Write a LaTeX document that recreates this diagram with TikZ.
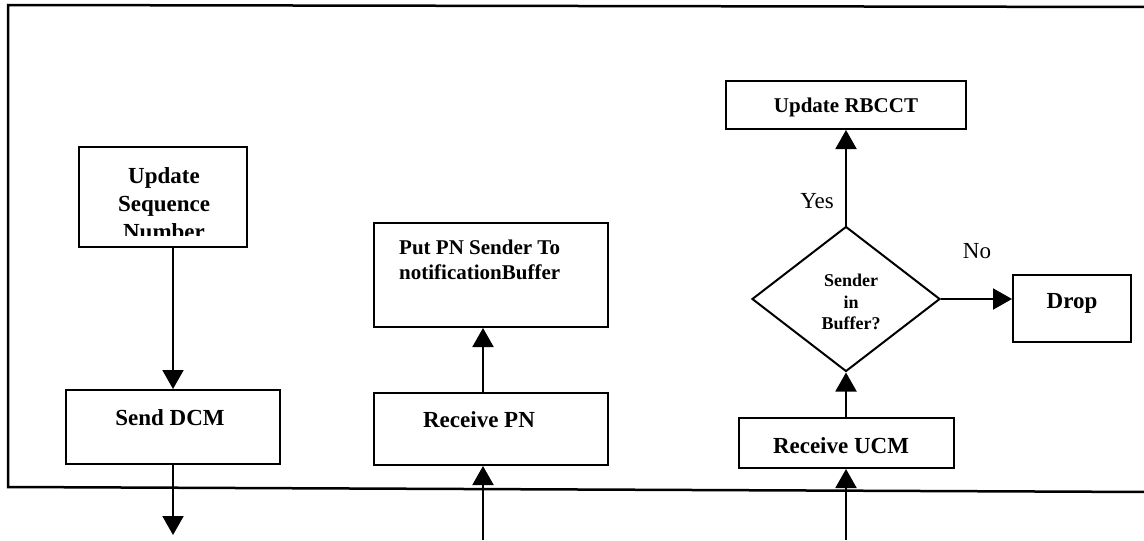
\documentclass[tikz,border=0pt]{standalone}
\usepackage{fontspec}
\setmainfont{Liberation Serif}
\usetikzlibrary{arrows.meta,shapes.geometric,calc}

\begin{document}
\begin{tikzpicture}[x=1pt,y=-1pt,
  stepbox/.style 2 args={draw,line width=2pt,inner sep=0pt,
    minimum width=#1,minimum height=#2},
  decision/.style 2 args={draw,diamond,line width=2pt,inner sep=0pt,
    minimum width=#1,minimum height=#2},
  lbl/.style={inner sep=0pt,anchor=base,font=\fontsize{23}{28}\selectfont\bfseries},
  lblsm/.style={inner sep=0pt,anchor=base,font=\fontsize{21}{25}\selectfont\bfseries},
  lbltiny/.style={inner sep=0pt,anchor=base,font=\fontsize{18}{21}\selectfont\bfseries},
  answer/.style={inner sep=0pt,anchor=base,font=\fontsize{23}{28}\selectfont},
  arr/.style={line width=2pt,-{Triangle[width=21pt,length=19pt]}},
  frame/.style={line width=2.5pt}
]
\useasboundingbox (0,0) rectangle (1144,541);
\clip (0,0) rectangle (1144,541);

% outer frame, open to the right
\draw[frame] (1150,7) -- (8,5) -- (8,487) -- (1150,492);

% left column: sending side
\node[stepbox={168pt}{100pt}] (usn) at (163,197) {};
\begin{scope}
  \clip (79,147) rectangle (247,235);
  \node[lbl] (usn1) at (164,183) {Update};
  \node[lbl] (usn2) at (164,211) {Sequence};
  \node[lbl] (usn3) at (164,239) {Number};
\end{scope}
\node[stepbox={214pt}{74pt}] (sdcm) at (173,427) {};
\node[lbl] (sdcmt) at (170,425) {Send DCM};
\coordinate (out) at (173,535);
\draw[arr] (usn.south -| sdcm.north) -- (sdcm.north);
\draw[arr] (sdcm.south) -- (out);

% middle column: receiving a PN
\node[stepbox={234pt}{104pt}] (ppn) at (491,275) {};
\node[lblsm,anchor=base west] (ppn1) at (399,254) {Put PN Sender To};
\node[lblsm,anchor=base west] (ppn2) at (399,279) {notificationBuffer};
\node[stepbox={234pt}{72pt}] (rpn) at (491,429) {};
\node[lbl] (rpnt) at (479,427) {Receive PN};
\coordinate (inpn) at (483,540);
\draw[arr] ([xshift=-8pt]rpn.north) -- ([xshift=-8pt]rpn.north |- ppn.south);
\draw[arr] (inpn) -- (inpn |- rpn.south);

% right column: receiving a UCM
\node[stepbox={240pt}{48pt}] (rbc) at (846,105) {};
\node[lblsm] (rbct) at (846,112) {Update RBCCT};
\node[decision={188pt}{145pt}] (dm) at (846,299) {};
\node[lbltiny] (dm1) at (851,286) {Sender};
\node[lbltiny] (dm2) at (851,308) {in};
\node[lbltiny] (dm3) at (851,329) {Buffer?};
\node[stepbox={118pt}{67pt}] (drop) at (1072,308.5) {};
\node[lbl] (dropt) at (1072,308) {Drop};
\node[stepbox={215pt}{50pt}] (rucm) at (846,443) {};
\node[lbl] (rucmt) at (841,453) {Receive UCM};
\coordinate (inucm) at (846,540);

\draw[arr] (dm.north) -- (rbc.south);
\draw[arr] (dm.east) -- (dm.east -| drop.west);
\draw[arr] (rucm.north) -- (dm.south);
\draw[arr] (inucm) -- (rucm.south);

\node[answer] (yes) at (817,208) {Yes};
\node[answer] (no) at (977,258) {No};
\end{tikzpicture}
\end{document}
